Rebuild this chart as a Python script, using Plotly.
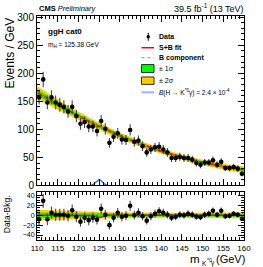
import numpy as np
import plotly.graph_objects as go

# ---------------- data ----------------
bin_centers = [110.5 + i for i in range(50)]
data_counts = [157, 189, 148, 157, 148, 144, 140, 132, 140, 124,
               110, 113, 105, 105, 97, 115, 101, 76, 87, 93,
               82, 81, 99, 78, 80, 70, 59, 64, 68, 69,
               64, 59, 49, 49, 51, 49, 49, 46, 40, 37,
               41, 41, 45, 37, 42, 31, 31, 33, 30, 21]
residuals = [-8, 29, -8, 5, 1, 1, 1, -1, 10, -3,
             -13, -5, -10, -5, -9, 13, 1, -20, -5, 5,
             -3, -1, 19, 0, 5, -2, -11, -2, 3, 8,
             5, 1, -5, -3, 1, 0, 3, 1, -3, -4,
             1, 3, 9, 1, 9, -2, -1, 3, 1, -7]
fit_x = list(range(110, 161))
fit_bkg = [166.0, 161.4, 157.0, 152.5, 148.2, 143.9, 139.7, 135.6, 131.6, 127.6,
           123.7, 119.9, 116.1, 112.4, 108.8, 105.3, 101.8, 98.4, 95.1, 91.9,
           88.7, 85.6, 82.6, 79.7, 76.8, 74.0, 71.3, 68.6, 66.1, 63.6,
           61.1, 58.8, 56.5, 54.3, 52.1, 50.1, 48.1, 46.2, 44.3, 42.6,
           40.9, 39.3, 37.7, 36.3, 34.9, 33.5, 32.3, 31.1, 30.0, 29.0, 28.0]
sigma1 = [5.6, 5.4, 5.2, 5.0, 4.8, 4.6, 4.4, 4.2, 4.0, 3.9,
          3.8, 3.7, 3.6, 3.5, 3.4, 3.3, 3.2, 3.1, 3.0, 2.9,
          2.9, 2.8, 2.8, 2.7, 2.7, 2.6, 2.6, 2.6, 2.5, 2.5,
          2.5, 2.5, 2.5, 2.5, 2.5, 2.5, 2.5, 2.5, 2.5, 2.5,
          2.5, 2.5, 2.6, 2.6, 2.6, 2.7, 2.7, 2.8, 2.8, 2.9, 3.0]
sigma2 = [11.2, 10.8, 10.4, 10.0, 9.6, 9.2, 8.8, 8.4, 8.0, 7.8,
          7.6, 7.4, 7.2, 7.0, 6.8, 6.6, 6.4, 6.2, 6.0, 5.8,
          5.8, 5.6, 5.6, 5.4, 5.4, 5.2, 5.2, 5.2, 5.0, 5.0,
          5.0, 5.0, 5.0, 5.0, 5.0, 5.0, 5.0, 5.0, 5.0, 5.0,
          5.0, 5.0, 5.2, 5.2, 5.2, 5.4, 5.4, 5.6, 5.6, 5.8, 6.0]
sig_x = [110, 122, 123, 123.5, 124, 124.5, 125, 125.5, 126, 126.5, 127, 128, 160]
sig_y = [0, 0, 0.3, 1.5, 4.5, 8.5, 10.5, 8.5, 4.5, 1.5, 0.3, 0, 0]
sbres_x = [110, 123, 123.5, 124, 124.5, 125, 125.5, 126, 126.5, 127, 160]
sbres_y = [0, 0, -0.5, -2, -4, -4.5, -4, -2, -0.5, 0, 0]
x_ticks = [110, 115, 120, 125, 130, 135, 140, 145, 150, 155, 160]

data_err = list(np.sqrt(np.array(data_counts, dtype=float)))
fb = np.array(fit_bkg); s1 = np.array(sigma1); s2 = np.array(sigma2)

FONT = "Liberation Sans"
W, H = 263, 267
ML, MR, MT, MB = 37, 12, 14, 27
PW, PH = W - ML - MR, H - MT - MB

def px(x):
    return (x - ML) / PW

def py(y):
    return (H - MB - y) / PH

YELLOW = "#ffcc00"
GREEN = "#00ff00"

fig = go.Figure()

def band(xs, lo, hi, color, xa, ya):
    fig.add_trace(go.Scatter(x=xs, y=list(lo), mode="lines", line=dict(width=0),
                             showlegend=False, hoverinfo="skip", xaxis=xa, yaxis=ya))
    fig.add_trace(go.Scatter(x=xs, y=list(hi), mode="lines", line=dict(width=0),
                             fill="tonexty", fillcolor=color, showlegend=False,
                             hoverinfo="skip", xaxis=xa, yaxis=ya))

# upper panel
band(fit_x, fb - s2, fb + s2, YELLOW, "x", "y")
band(fit_x, fb - s1, fb + s1, GREEN, "x", "y")
fig.add_trace(go.Scatter(x=fit_x, y=fit_bkg, mode="lines",
                         line=dict(color="red", width=1.5), showlegend=False))
fig.add_trace(go.Scatter(x=fit_x, y=fit_bkg, mode="lines",
                         line=dict(color="#ff8080", width=1, dash="dot"), showlegend=False))
fig.add_trace(go.Scatter(x=sig_x, y=sig_y, mode="lines",
                         line=dict(color="#3355ff", width=1.2), showlegend=False))
fig.add_trace(go.Scatter(x=bin_centers, y=data_counts, mode="markers",
                         marker=dict(color="black", size=4.6),
                         error_y=dict(type="data", array=data_err, color="#444444",
                                      thickness=1.1, width=0),
                         showlegend=False))

# lower panel
zeros = np.zeros(len(fit_x))
band(fit_x, zeros - s2, zeros + s2, YELLOW, "x2", "y2")
band(fit_x, zeros - s1, zeros + s1, GREEN, "x2", "y2")
fig.add_trace(go.Scatter(x=sbres_x, y=sbres_y, mode="lines",
                         line=dict(color="red", width=1.5), showlegend=False,
                         xaxis="x2", yaxis="y2"))
fig.add_trace(go.Scatter(x=bin_centers, y=residuals, mode="markers",
                         marker=dict(color="black", size=4.6),
                         error_y=dict(type="data", array=data_err, color="#444444",
                                      thickness=1.1, width=0),
                         showlegend=False, xaxis="x2", yaxis="y2"))

axis_common = dict(showline=True, linecolor="black", linewidth=1, mirror="allticks",
                   ticks="inside", ticklen=6, tickwidth=1, tickcolor="black",
                   showgrid=False, zeroline=False)

up_top = 1.0
up_bot = py(185)
lo_top = py(192)

fig.update_layout(
    width=W, height=H,
    margin=dict(l=ML, r=MR, t=MT, b=MB),
    paper_bgcolor="white", plot_bgcolor="white",
    font=dict(family=FONT, color="black"),
    xaxis=dict(domain=[0, 1], anchor="y", range=[110, 160], tickvals=x_ticks,
               showticklabels=False,
               minor=dict(dtick=1, tick0=110, ticklen=3, ticks="inside", tickcolor="black"),
               **axis_common),
    yaxis=dict(domain=[up_bot, up_top], anchor="x", range=[0, 302], dtick=50,
               tickfont=dict(size=10, family=FONT),
               minor=dict(dtick=10, ticklen=3, ticks="inside", tickcolor="black"),
               **axis_common),
    xaxis2=dict(domain=[0, 1], anchor="y2", range=[110, 160], tickvals=x_ticks,
                tickfont=dict(size=8, family=FONT),
                minor=dict(dtick=1, tick0=110, ticklen=3, ticks="inside", tickcolor="black"),
                **axis_common),
    yaxis2=dict(domain=[0, lo_top], anchor="x2", range=[-50, 46],
                tickvals=[-40, -20, 0, 20, 40],
                tickfont=dict(size=7, family=FONT),
                minor=dict(dtick=5, ticklen=3, ticks="inside", tickcolor="black"),
                **axis_common),
)

ann = []
def text(x, y, s, size, xanchor="left", yanchor="middle", angle=0):
    ann.append(dict(x=x, y=y, xref="paper", yref="paper", text=s, showarrow=False,
                    xanchor=xanchor, yanchor=yanchor, textangle=angle, borderpad=0,
                    font=dict(size=size, family=FONT, color="black")))

text(px(38), py(6), "<b>CMS</b> <i>Preliminary</i>", 7.5)
text(px(252), py(6), "39.5 fb<sup>-1</sup> (13 TeV)", 9, xanchor="right")
text(px(47), py(30), "<b>ggH cat0</b>", 8)
text(px(47), py(43), "m<sub>H</sub> = 125.38 GeV", 6.5)
text(px(9), py(14), "Events / GeV", 12, xanchor="center", yanchor="top", angle=-90)
text(px(6), py(214), "Data-Bkg.", 8.5, xanchor="center", yanchor="middle", angle=-90)
# x-axis title built from pieces: m_{K*0 γ} (GeV)
text(px(206.5), py(259), "m", 11.5, xanchor="right")
text(px(206.5), py(263.5), "K", 6.5)
text(px(211.3), py(259.8), "*0", 5)
text(px(216.1), py(263.5), "γ", 6.5)
text(px(253), py(259.5), "(GeV)", 11, xanchor="right")

LX = px(162)
leg_y = [35, 46, 56, 67, 79, 91]
text(LX, py(leg_y[0]), "<b>Data</b>", 7)
text(LX, py(leg_y[1]), "<b>S+B fit</b>", 7)
text(LX, py(leg_y[2]), "<b>B component</b>", 7)
text(LX, py(leg_y[3]), "± 1σ", 7)
text(LX, py(leg_y[4]), "± 2σ", 7)
text(LX, py(leg_y[5]), "<i>B</i>(H → K<sup>*0</sup>γ) = 2.4 × 10<sup>-4</sup>", 6.5)

shapes = []
def pshape(**kw):
    kw.setdefault("xref", "paper"); kw.setdefault("yref", "paper")
    shapes.append(kw)

# legend symbols
pshape(type="line", x0=px(152), x1=px(152), y0=py(31), y1=py(39), line=dict(color="black", width=1))
pshape(type="circle", x0=px(150.2), x1=px(153.8), y0=py(36.8), y1=py(33.2),
       fillcolor="black", line=dict(color="black", width=0))
pshape(type="line", x0=px(145), x1=px(158), y0=py(leg_y[1]), y1=py(leg_y[1]), line=dict(color="red", width=1.5))
pshape(type="line", x0=px(145), x1=px(158), y0=py(leg_y[2]), y1=py(leg_y[2]), line=dict(color="#ff8080", width=1.2, dash="dot"))
pshape(type="rect", x0=px(145), x1=px(158), y0=py(71), y1=py(63), fillcolor=GREEN, line=dict(color="black", width=0.8))
pshape(type="rect", x0=px(145), x1=px(158), y0=py(83), y1=py(75.5), fillcolor=YELLOW, line=dict(color="black", width=0.8))
pshape(type="line", x0=px(145), x1=px(158), y0=py(leg_y[5]), y1=py(leg_y[5]), line=dict(color="#9fb0ff", width=2))

fig.update_layout(annotations=ann, shapes=shapes)
fig.write_html("out.html",
               config={"displayModeBar": False},
               post_script="document.body.style.margin='0';document.body.style.padding='0';document.body.style.overflow='hidden';")
